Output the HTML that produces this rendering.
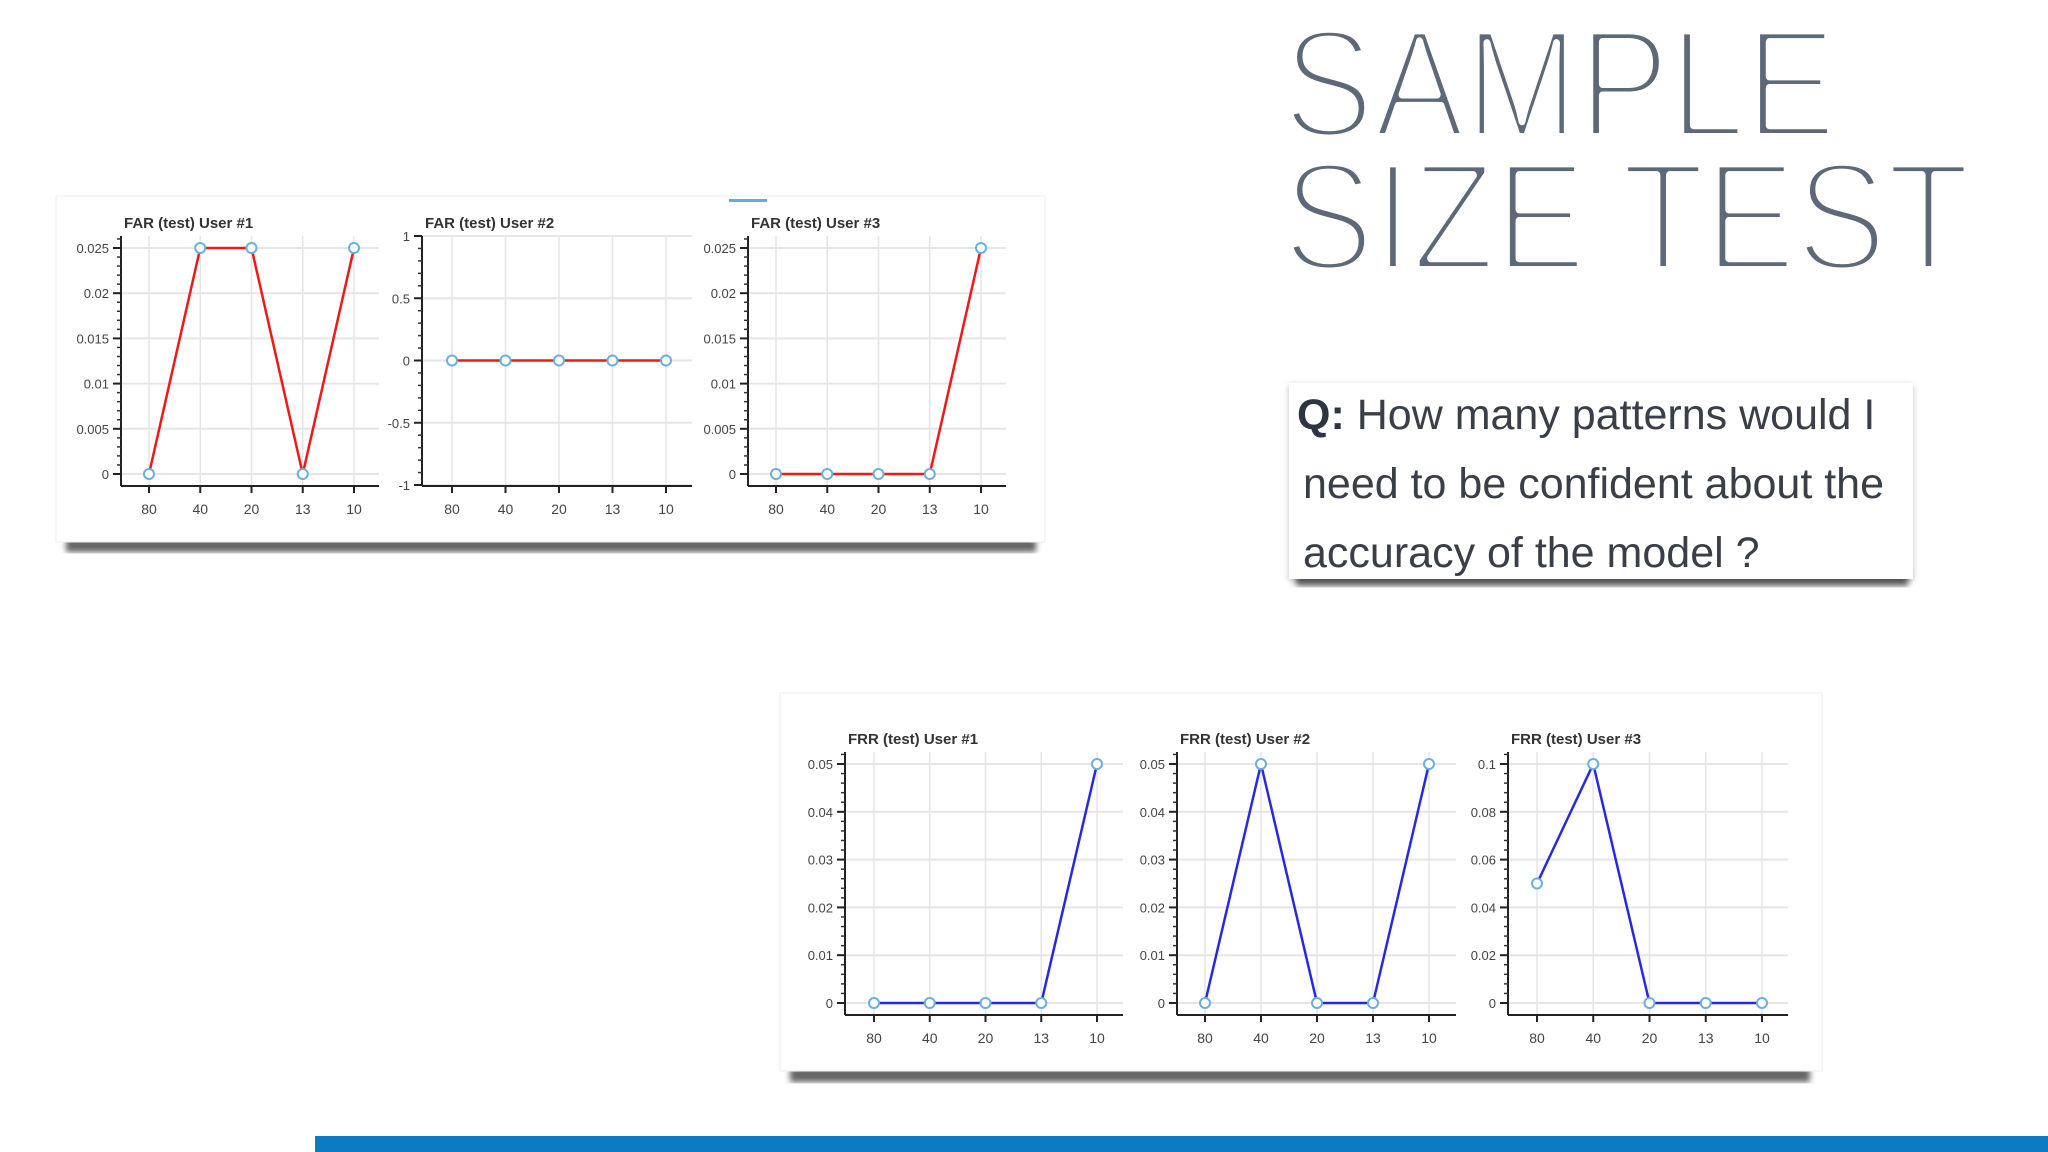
<!DOCTYPE html>
<html><head><meta charset="utf-8"><style>
html,body{margin:0;padding:0;background:#fff;}
body{width:2048px;height:1152px;position:relative;overflow:hidden;font-family:"Liberation Sans",sans-serif;}
#qbox{position:absolute;left:1289px;top:383px;width:624px;height:196px;background:#fff;box-shadow:0 2px 6px rgba(0,0,0,.25);}
#qtext{position:absolute;left:8px;top:-2px;font-size:43px;line-height:69px;color:#3a3f47;white-space:nowrap;}
#qtext span{display:block;padding-left:6px;}
#bar{position:absolute;left:315px;top:1136px;width:1733px;height:16px;background:#0b7cc2;}
</style></head><body>
<svg id="charts" width="2048" height="1152" style="position:absolute;left:0;top:0">
<defs><filter id="blur"><feGaussianBlur stdDeviation="3"/></filter></defs>
<g font-family="Liberation Sans, sans-serif" font-size="155" fill="#5d6878" stroke="#fff" stroke-width="8" stroke-linejoin="round">
<text x="1283" y="137" transform="translate(1283 0) scale(0.88 1) translate(-1283 0)">SAMPLE</text>
<text x="1283" y="270" transform="translate(1283 0) scale(0.88 1) translate(-1283 0)">SIZE TEST</text>
</g>
<rect x="66" y="538" width="970" height="14" fill="#666" filter="url(#blur)"/>
<rect x="56" y="196" width="989" height="346" fill="#fff" stroke="#eee"/>
<rect x="729" y="199" width="38" height="3" fill="#5ab0e0"/>
<rect x="790" y="1068" width="1020" height="14" fill="#666" filter="url(#blur)"/>
<rect x="780" y="693" width="1042" height="378" fill="#fff" stroke="#eee"/>
<rect x="1296" y="574" width="612" height="12" fill="#666" filter="url(#blur)"/>
<g id="plots"></g>
</svg>
<div id="qbox"><div id="qtext"><b style="color:#2e3540">Q:</b> How many patterns would I<span>need to be confident about the</span><span>accuracy of the model ?</span></div></div>
<div id="bar"></div>
<script>
const categories=["80","40","20","13","10"];
const far1=[0,0.025,0.025,0,0.025];
const far2=[0,0,0,0,0];
const far3=[0,0,0,0,0.025];
const frr1=[0,0,0,0,0.05];
const frr2=[0,0.05,0,0,0.05];
const frr3=[0.05,0.1,0,0,0];
const farTicks=[0,0.005,0.01,0.015,0.02,0.025];
const far2Ticks=[-1,-0.5,0,0.5,1];
const frrTicks=[0,0.01,0.02,0.03,0.04,0.05];
const frr3Ticks=[0,0.02,0.04,0.06,0.08,0.1];
const tickLabelsFar=["0","0.005","0.01","0.015","0.02","0.025"];
const tickLabelsFar2=["-1","-0.5","0","0.5","1"];
const tickLabelsFrr=["0","0.01","0.02","0.03","0.04","0.05"];
const tickLabelsFrr3=["0","0.02","0.04","0.06","0.08","0.1"];
const NS="http://www.w3.org/2000/svg";
const root=document.getElementById('plots');
function mk(tag,at,parent){const e=document.createElementNS(NS,tag);for(const k in at)e.setAttribute(k,at[k]);(parent||root).appendChild(e);return e;}
function chart(cfg){
  const g=mk('g',{});
  
  
  const xS=i=>cfg.x0+(cfg.x1-cfg.x0)*i/(categories.length-1);
  const yS=v=>cfg.yv0+(cfg.yv1-cfg.yv0)*(v-cfg.vmin)/(cfg.vmax-cfg.vmin);
  cfg.ticks.forEach(t=>{mk('line',{x1:cfg.ax,x2:cfg.right,y1:yS(t),y2:yS(t),stroke:'#e6e6e6','stroke-width':2},g);});
  categories.forEach((c,i)=>{mk('line',{x1:xS(i),x2:xS(i),y1:cfg.top,y2:cfg.axy,stroke:'#e6e6e6','stroke-width':1.5},g);});
  mk('line',{x1:cfg.ax,x2:cfg.ax,y1:cfg.top,y2:cfg.axy,stroke:'#222','stroke-width':2},g);
  mk('line',{x1:cfg.ax,x2:cfg.right,y1:cfg.axy,y2:cfg.axy,stroke:'#222','stroke-width':2},g);
  const step=(cfg.ticks[1]-cfg.ticks[0])/5;
  for(let v=cfg.ticks[0];v<=cfg.vtop+1e-9;v+=step){mk('line',{x1:cfg.ax-4,x2:cfg.ax,y1:yS(v),y2:yS(v),stroke:'#333','stroke-width':1.5},g);}
  cfg.ticks.forEach((t,k)=>{
    mk('line',{x1:cfg.ax-8,x2:cfg.ax,y1:yS(t),y2:yS(t),stroke:'#222','stroke-width':2},g);
    const tx=mk('text',{x:cfg.ax-12,y:yS(t)+5,'text-anchor':'end','font-size':13,fill:'#444','font-family':'Liberation Sans, sans-serif'},g);
    tx.textContent=cfg.labels[k];
    
    
  });
  categories.forEach((c,i)=>{
    mk('line',{x1:xS(i),x2:xS(i),y1:cfg.axy,y2:cfg.axy+7,stroke:'#222','stroke-width':2},g);
    const tx=mk('text',{x:xS(i),y:cfg.axy+28,'text-anchor':'middle','font-size':14,fill:'#444','font-family':'Liberation Sans, sans-serif'},g);
    tx.textContent=c;
    
    
  });
  const tt=mk('text',{x:cfg.ax+3,y:cfg.top-8,'font-size':15,'font-weight':'bold',fill:'#333','font-family':'Liberation Sans, sans-serif'},g);
  tt.textContent=cfg.title;
  
  
  const pts=cfg.data.map((v,i)=>xS(i)+','+yS(v)).join(' ');
  const pl=mk('polyline',{points:pts,fill:'none',stroke:cfg.color,'stroke-width':2.5},g);
  
  
  cfg.data.forEach((v,i)=>{
    const c=mk('circle',{cx:xS(i),cy:yS(v),r:5,fill:'#fff',stroke:'#6ab0dc','stroke-width':2},g);
    
    
  });
}
const topRow={top:236,axy:486,yv0:474,yv1:248,vmin:0,vmax:0.025,vtop:0.026,ticks:farTicks,labels:tickLabelsFar,color:'#f01818'};
chart(Object.assign({},topRow,{name:'far-user-1-chart',title:'FAR (test) User #1',ax:121,right:379,x0:149,x1:354,data:far1}));
chart(Object.assign({},topRow,{name:'far-user-2-chart',title:'FAR (test) User #2',ax:422,right:692,x0:452,x1:666,data:far2,yv0:485,yv1:236,vmin:-1,vmax:1,vtop:1,ticks:far2Ticks,labels:tickLabelsFar2}));
chart(Object.assign({},topRow,{name:'far-user-3-chart',title:'FAR (test) User #3',ax:748,right:1006,x0:776,x1:981,data:far3}));
const botRow={top:752,axy:1015,yv0:1003,yv1:764,vmin:0,vmax:0.05,vtop:0.052,ticks:frrTicks,labels:tickLabelsFrr,color:'#2828e0'};
chart(Object.assign({},botRow,{name:'frr-user-1-chart',title:'FRR (test) User #1',ax:845,right:1123,x0:874,x1:1097,data:frr1}));
chart(Object.assign({},botRow,{name:'frr-user-2-chart',title:'FRR (test) User #2',ax:1177,right:1456,x0:1205,x1:1429,data:frr2}));
chart(Object.assign({},botRow,{name:'frr-user-3-chart',title:'FRR (test) User #3',ax:1508,right:1788,x0:1537,x1:1762,data:frr3,vmax:0.1,vtop:0.104,ticks:frr3Ticks,labels:tickLabelsFrr3}));
</script>
</body></html>
